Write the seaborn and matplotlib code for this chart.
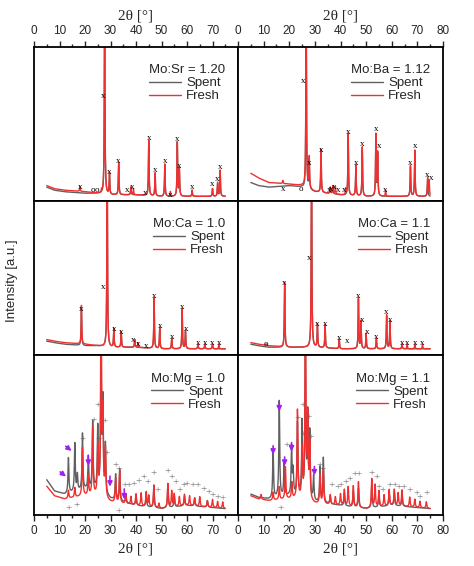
import numpy as np
import pandas as pd
import matplotlib
matplotlib.use("Agg")
import matplotlib.pyplot as plt
import seaborn as sns

sns.set_style("white")
plt.rcParams['font.family'] = ['Liberation Sans', 'DejaVu Sans']

# ---- data: (2theta, height) peak lists and baseline anchors ----
titles = ["Mo:Sr = 1.20", "Mo:Ba = 1.12", "Mo:Ca = 1.0", "Mo:Ca = 1.1", "Mo:Mg = 1.0", "Mo:Mg = 1.1"]

base_x = [5, 8, 12, 20, 25, 30, 40, 50, 60, 75]
base_fresh = [
    [0.10, 0.08, 0.07, 0.06, 0.05, 0.04, 0.04, 0.03, 0.03, 0.03],
    [0.18, 0.15, 0.12, 0.11, 0.10, 0.06, 0.04, 0.03, 0.03, 0.03],
    [0.10, 0.09, 0.08, 0.07, 0.06, 0.05, 0.05, 0.04, 0.04, 0.04],
    [0.08, 0.07, 0.06, 0.05, 0.05, 0.05, 0.04, 0.04, 0.04, 0.04],
    [0.18, 0.12, 0.10, 0.12, 0.12, 0.08, 0.06, 0.04, 0.06, 0.04],
    [0.12, 0.10, 0.09, 0.10, 0.10, 0.07, 0.06, 0.04, 0.06, 0.04],
]
base_spent = [
    [0.09, 0.07, 0.06, 0.05, 0.05, 0.04, 0.04, 0.03, 0.03, 0.03],
    [0.12, 0.10, 0.09, 0.10, 0.09, 0.06, 0.04, 0.03, 0.03, 0.03],
    [0.09, 0.08, 0.07, 0.06, 0.06, 0.05, 0.05, 0.04, 0.04, 0.04],
    [0.07, 0.06, 0.05, 0.05, 0.05, 0.05, 0.04, 0.04, 0.04, 0.04],
    [0.22, 0.15, 0.13, 0.16, 0.16, 0.10, 0.06, 0.04, 0.06, 0.04],
    [0.13, 0.11, 0.10, 0.12, 0.12, 0.08, 0.06, 0.04, 0.06, 0.04],
]

peaks_fresh = [
    [(18, .03), (26.5, .02), (27.7, 1.3), (29.6, .14), (33.2, .21), (38, .05), (39, .04), (45, .36),
     (47.5, .15), (51.3, .21), (53.5, .03), (56.2, .35), (57, .18), (62, .04), (70, .05), (72, .09), (73, .17)],
    [(17.5, .02), (26.6, 1.3), (27.8, .2), (32.4, .28), (36, .04), (37, .05), (38, .05), (42, .04),
     (43, .4), (46, .2), (48.5, .32), (53.8, .4), (54.5, .28), (57.6, .04), (67.3, .2), (69, .3), (74, .12), (74.6, .1)],
    [(18.6, .25), (28.7, 1.3), (31.3, .12), (34.2, .1), (39.5, .05), (40.8, .03), (47.1, .33),
     (49.3, .14), (54, .07), (58.1, .26), (59.4, .12), (64.3, .03), (67, .03), (70, .03), (72.5, .03)],
    [(11, .01), (18.2, .42), (28.7, 1.3), (31, .15), (34, .15), (39.5, .06), (47, .33), (48, .18),
     (50, .1), (54, .07), (58, .22), (59.3, .18), (64, .03), (66, .03), (69, .03), (72, .03)],
    [(13.5, .05), (16, .06), (19, .3), (21.3, .12), (23, .42), (25, .3), (26.3, 1.3), (27, .5), (28, .3),
     (32, .15), (33.6, .2), (36, .06), (38, .05), (40, .07), (42, .08), (44, .09), (45, .07), (47, .14),
     (49, .03), (52.5, .15), (54, .1), (55, .08), (57, .06), (59, .07), (61, .06), (63, .05), (65, .06),
     (68, .04), (70, .05), (72, .04), (74, .04)],
    [(9, .03), (13.7, .05), (16.1, .08), (18.5, .2), (21, .1), (23.2, .55), (25, .3), (26.3, 1.3), (27.2, .5),
     (28, .35), (32, .18), (33.3, .22), (36, .06), (38, .05), (40, .07), (41.5, .1), (43, .12), (45, .13),
     (47, .16), (52.2, .18), (53.5, .14), (55, .1), (57, .07), (59, .1), (61, .1), (62.5, .08), (64, .1),
     (67, .06), (69, .05), (71, .04), (73.5, .04)],
]
peaks_spent = [
    [(27.7, 1.3), (29.6, .13), (33.2, .2), (38, .05), (45, .36), (47.5, .14), (51.3, .2),
     (56.2, .35), (57, .17), (62, .04), (70, .05), (72, .08), (73, .16)],
    [(26.6, 1.1), (27.8, .19), (32.4, .27), (36, .04), (37, .05), (43, .38), (46, .19), (48.5, .3),
     (53.8, .38), (54.5, .27), (67.3, .19), (69, .28), (74, .11)],
    [(18.6, .24), (28.7, 1.3), (31.3, .11), (34.2, .1), (39.5, .05), (47.1, .32), (49.3, .13),
     (54, .06), (58.1, .25), (59.4, .11), (64.3, .03), (67, .03), (70, .03)],
    [(18.2, .4), (28.7, 1.3), (31, .14), (34, .14), (39.5, .06), (47, .32), (48, .17), (50, .09),
     (54, .06), (58, .21), (59.3, .17), (64, .03)],
    [(13.5, .22), (16, .3), (17, .1), (19, .35), (21.3, .2), (23, .42), (25, .38), (26.3, .9), (27, .55),
     (28, .3), (32, .16), (33.6, .2), (36, .05), (40, .06), (44, .08), (47, .12), (52.5, .14), (55, .07),
     (59, .06), (63, .05), (68, .04)],
    [(13.7, .3), (16.1, .6), (18, .2), (20.9, .3), (21.5, .15), (23.2, .45), (25, .45), (26.3, .9), (27.2, .5),
     (28, .4), (29.5, .15), (32, .22), (33.3, .28), (36, .05), (41.5, .08), (45, .1), (47, .12), (52.2, .14),
     (55, .08), (59, .08), (61, .08), (64, .07)],
]
peak_width = [0.14, 0.14, 0.14, 0.14, 0.2, 0.2]

# phase markers (symbol, 2theta, height in axes units)
marks = [
    [("x", 18, .09), ("o", 23, .07), ("o", 24.5, .07), ("x", 27.3, .68), ("x", 29.6, .19), ("x", 33.2, .26),
     ("x", 36.5, .07), ("x", 38.5, .09), ("x", 43.5, .05), ("x", 45, .41), ("x", 47.5, .20), ("x", 51.3, .26),
     ("x", 53.5, .04), ("x", 56.2, .40), ("x", 57, .23), ("x", 62, .09), ("x", 70, .11), ("x", 72, .14), ("x", 73, .22)],
    [("x", 17.5, .08), ("o", 24.5, .08), ("x", 25.6, .78), ("x", 27.8, .25), ("x", 32.4, .33), ("x", 35.5, .07),
     ("x", 36.5, .08), ("x", 37.5, .09), ("x", 39, .07), ("x", 41.5, .07), ("x", 43, .45), ("x", 46, .25),
     ("x", 48.5, .37), ("x", 53.8, .47), ("x", 55, .36), ("x", 57.6, .07), ("x", 67.3, .25), ("x", 69, .36),
     ("x", 73.7, .17), ("x", 75.2, .15)],
    [("x", 18.6, .30), ("x", 27.3, .44), ("x", 31.3, .17), ("x", 34.2, .15), ("x", 39, .10), ("x", 40.8, .07),
     ("x", 44, .06), ("x", 47.1, .38), ("x", 49.3, .19), ("x", 54, .12), ("x", 58.1, .31), ("x", 59.8, .17),
     ("x", 64.3, .08), ("x", 67, .08), ("x", 70, .08), ("x", 72.5, .08)],
    [("o", 11, .07), ("x", 18.2, .47), ("x", 27.8, .63), ("x", 31, .20), ("x", 34, .20), ("x", 39.5, .11),
     ("x", 42.5, .09), ("x", 47, .38), ("x", 48.5, .23), ("x", 50.5, .15), ("x", 54, .12), ("x", 58, .28),
     ("x", 59.5, .23), ("x", 64, .08), ("x", 66, .08), ("x", 69, .08), ("x", 72, .08)],
    [("+", 13.5, .04), ("+", 16.5, .06), ("+", 19, .47), ("+", 23.5, .59), ("+", 25, .68), ("+", 25.2, .47),
     ("+", 27.8, .58), ("+", 28.5, .38), ("+", 32, .31), ("+", 33, .28), ("+", 33, .02), ("+", 35.5, .18),
     ("+", 37, .18), ("+", 39, .19), ("+", 41, .21), ("+", 43, .23), ("+", 44.5, .2), ("+", 47, .26),
     ("+", 48.5, .15), ("+", 52.5, .27), ("+", 54, .23), ("+", 55.5, .2), ("+", 57, .15), ("+", 58.5, .18),
     ("+", 60, .19), ("+", 62, .18), ("+", 64, .18), ("+", 66.5, .16), ("+", 68.5, .14), ("+", 70, .12), ("+", 72, .11), ("+", 74, .1)],
    [("+", 16.5, .04), ("+", 19, .43), ("+", 23.3, .6), ("+", 25, .68), ("+", 25.2, .5), ("+", 27.4, .61),
     ("+", 28.3, .48), ("+", 32, .31), ("+", 33, .28), ("+", 36.5, .18), ("+", 39, .17), ("+", 40, .18),
     ("+", 42, .2), ("+", 43.5, .22), ("+", 45.5, .25), ("+", 47, .25), ("+", 52, .26), ("+", 54, .23),
     ("+", 55, .17), ("+", 56.5, .15), ("+", 59, .18), ("+", 61, .18), ("+", 62.5, .17), ("+", 64.5, .17),
     ("+", 67, .15), ("+", 69.5, .13), ("+", 71, .11), ("+", 73.5, .13)],
]
# purple arrows: (tip 2theta, tip height, tail dx, tail dy)
arrows = [
    [(13.4, .23, -4, .05), (15.6, .39, -4, .05), (21.3, .29, 0, .1), (29.8, .16, 0, .1), (35.4, .08, 0, .1)],
    [(13.7, .36, 0, .09), (16.1, .63, 0, .09), (18.2, .29, 0, .09), (20.9, .38, 0, .09), (29.8, .23, 0, .09)],
]

two_theta = np.arange(5, 75.01, 0.05)


def pattern(peaks, base, w):
    y = np.interp(two_theta, base_x, base)
    for pos, h in peaks:
        y = y + h / (1 + ((two_theta - pos) / w) ** 2)
    return y


fig = plt.figure(figsize=(4.74, 5.66), dpi=100)
W, H = 474, 566
left, mid, right = 34, 238, 443
rows = [(47, 201), (201, 355), (355, 515)]

for i in range(6):
    r, c = divmod(i, 2)
    x0 = left if c == 0 else mid
    x1 = mid if c == 0 else right
    top, bot = rows[r]
    ax = fig.add_axes([x0 / W, 1 - bot / H, (x1 - x0) / W, (bot - top) / H])
    df = pd.DataFrame({
        "2theta": np.concatenate([two_theta, two_theta]),
        "I": np.concatenate([pattern(peaks_spent[i], base_spent[i], peak_width[i]),
                             pattern(peaks_fresh[i], base_fresh[i], peak_width[i])]),
        "sample": ["Spent"] * len(two_theta) + ["Fresh"] * len(two_theta),
    })
    sns.lineplot(data=df, x="2theta", y="I", hue="sample", palette={"Spent": "#606060", "Fresh": "#f03030"},
                 lw=1.0, ax=ax, estimator=None)
    ax.set_xlim(0, 80)
    ax.set_ylim(0, 1)
    ax.set_yticks([])
    ax.set_xlabel("")
    ax.set_ylabel("")
    for s in ax.spines.values():
        s.set_linewidth(1.3)
        s.set_color("black")
    for sym, xx, yy in marks[i]:
        ax.text(xx, yy, sym, ha="center", va="center", fontsize=6.5 if sym != "+" else 8,
                color="black" if sym != "+" else "#666666", family="Liberation Serif")
    if r == 2:
        for tx, ty, dx, dy in arrows[c]:
            ax.annotate("", xy=(tx, ty), xytext=(tx + dx, ty + dy),
                        arrowprops=dict(arrowstyle="-|>", color="#a020f0", lw=1.2, mutation_scale=7))
    ax.set_xticks(range(0, 81, 10) if c == 1 else range(0, 71, 10))
    ax.set_xticks(range(5, 80, 10), minor=True)
    if r == 0:
        ax.tick_params(axis="x", which="both", top=True, bottom=False, labeltop=True, labelbottom=False,
                       direction="out", labelsize=8.5)
        ax.set_xlabel("2θ [°]", family="Liberation Serif", fontsize=11)
        ax.xaxis.set_label_position("top")
    elif r == 2:
        ax.tick_params(axis="x", which="both", bottom=True, labelbottom=True, direction="out", labelsize=8.5)
        ax.set_xlabel("2θ [°]", family="Liberation Serif", fontsize=11)
    else:
        ax.tick_params(axis="x", which="both", bottom=False, labelbottom=False)
    ax.tick_params(axis="x", which="major", length=4, width=1)
    ax.tick_params(axis="x", which="minor", length=2, width=1)
    handles, labels = ax.get_legend_handles_labels()
    leg = ax.legend(handles, labels, title=titles[i], frameon=False, loc="upper right",
                    bbox_to_anchor=(0.97, 0.93), fontsize=9.5, title_fontsize=9.5, handlelength=2.4,
                    borderpad=0, labelspacing=0.05, handletextpad=0.4)
    leg._legend_box.align = "left"

fig.text(0.012, (1 - 281 / H), "Intensity [a.u.]", rotation=90, va="center", fontsize=9.5)
fig.savefig("out.png", dpi=100)
